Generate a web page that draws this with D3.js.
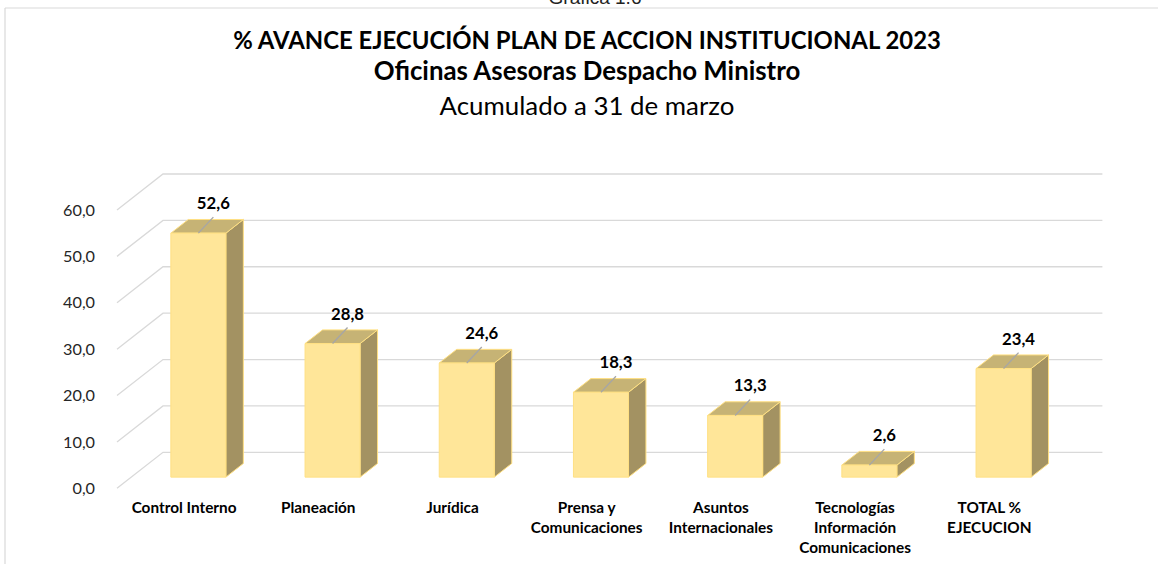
<!DOCTYPE html>
<html><head><meta charset="utf-8">
<script src="https://cdn.jsdelivr.net/npm/d3@7"></script>
<style>html,body{margin:0;padding:0;background:#fff;overflow:hidden}</style>
</head><body>
<svg id="c" width="1158" height="564"></svg>
<script>
const categories = ["Control Interno","Planeación","Jurídica","Prensa y Comunicaciones","Asuntos Internacionales","Tecnologías Información Comunicaciones","TOTAL % EJECUCION"];
const categoryLines = [["Control Interno"],["Planeación"],["Jurídica"],["Prensa y","Comunicaciones"],["Asuntos","Internacionales"],["Tecnologías","Información","Comunicaciones"],["TOTAL %","EJECUCION"]];
const values = [52.6, 28.8, 24.6, 18.3, 13.3, 2.6, 23.4];
const yTicks = [0, 10, 20, 30, 40, 50, 60];
const titleLines = ["% AVANCE EJECUCIÓN PLAN DE ACCION INSTITUCIONAL 2023","Oficinas Asesoras Despacho Ministro","Acumulado a 31 de marzo"];
const caption = "Gráfica 1.6";

const svg = d3.select("#c");
const FONT = "Lato, 'Open Sans', sans-serif";
const loc = d3.formatLocale({decimal: ",", thousands: ".", grouping: [3], currency: ["", ""]});
const fmt = loc.format(".1f");

// geometry
const x0 = 117, x1 = 117 + 7 * 134.2;
const yFront0 = 488.3, yFront60 = 210;
const depth = {dx: 46, dy: -36};
const d1 = 0.31, d2 = 0.69;

const x = d3.scaleBand().domain(categories).range([x0, x1]).paddingInner(0.59).paddingOuter(0.295);
const xc = d3.scaleBand().domain(categories).range([x0, x1]);
const y = d3.scaleLinear().domain([0, 60]).range([yFront0, yFront60]);

// fit helper: sets font size of a selection so that a reference string has the target width
function fitSize(text, weight, target) {
  const t = svg.append("text").attr("font-family", FONT).attr("font-weight", weight).attr("font-size", 100).text(text);
  const w = t.node().getComputedTextLength();
  t.remove();
  return 100 * target / w;
}

// frame
svg.append("line").attr("x1", 5).attr("y1", 8).attr("x2", 1158).attr("y2", 8).attr("stroke", "#d9d9d9").attr("stroke-width", 1.2);
svg.append("line").attr("x1", 5).attr("y1", 8).attr("x2", 5).attr("y2", 564).attr("stroke", "#d9d9d9").attr("stroke-width", 1.2);

svg.append("text").attr("x", 595).attr("y", 4).attr("text-anchor", "middle")
  .attr("font-family", "'Liberation Sans', Arial, sans-serif").attr("font-size", 19).attr("fill", "#222").text(caption);

// titles
const tSizes = [fitSize(titleLines[0], "bold", 708), fitSize(titleLines[1], "bold", 427), fitSize(titleLines[2], "normal", 295)];
const tY = [48.5, 79.5, 115];
titleLines.forEach((s, i) => {
  svg.append("text").attr("x", 587).attr("y", tY[i]).attr("text-anchor", "middle")
    .attr("font-family", FONT).attr("font-weight", i < 2 ? "bold" : "normal")
    .attr("font-size", tSizes[i]).attr("fill", "#000").text(s);
});

// gridlines (floor diagonal + back wall)
const grid = svg.append("g").attr("stroke", "#d9d9d9").attr("stroke-width", 1.3).attr("fill", "none");
yTicks.forEach(t => {
  grid.append("path").attr("d",
    `M${x0},${y(t)}L${x0 + depth.dx},${y(t) + depth.dy}L${x1 + depth.dx},${y(t) + depth.dy}`);
});

// y labels
const ySize = fitSize("60,0", "normal", 32);
svg.append("g").selectAll("text").data(yTicks).join("text")
  .attr("x", 95).attr("y", d => y(d)).attr("dy", "0.35em").attr("text-anchor", "end")
  .attr("font-family", FONT).attr("font-size", ySize).attr("fill", "#262626").text(d => fmt(d));

// bars
const bw = x.bandwidth();
const bdx = (d2 - d1) * depth.dx, bdy = (d2 - d1) * depth.dy;
const bars = svg.append("g");
categories.forEach((c, i) => {
  const v = values[i];
  const fx = x(c) + d1 * depth.dx;
  const yb = y(0) + d1 * depth.dy;
  const yt = y(v) + d1 * depth.dy;
  const g = bars.append("g").attr("stroke", "#ffe083").attr("stroke-width", 1).attr("stroke-linejoin", "round");
  g.append("path").attr("fill", "#a39262")
    .attr("d", `M${fx + bw},${yb}L${fx + bw + bdx},${yb + bdy}L${fx + bw + bdx},${yt + bdy}L${fx + bw},${yt}Z`);
  g.append("path").attr("fill", "#c6b375")
    .attr("d", `M${fx},${yt}L${fx + bdx},${yt + bdy}L${fx + bw + bdx},${yt + bdy}L${fx + bw},${yt}Z`);
  g.append("rect").attr("fill", "#ffe699").attr("x", fx).attr("y", yt).attr("width", bw).attr("height", yb - yt);
});

// value labels with leader lines
const vSize = fitSize("52,6", "bold", 33);
categories.forEach((c, i) => {
  const v = values[i];
  const cx = x(c) + d1 * depth.dx + bw / 2;
  const yt = y(v) + d1 * depth.dy;
  svg.append("line").attr("x1", cx).attr("y1", yt).attr("x2", cx + 15).attr("y2", yt - 16)
    .attr("stroke", "#a6a6a6").attr("stroke-width", 1.3);
  svg.append("text").attr("x", cx + 15).attr("y", yt - 24).attr("text-anchor", "middle")
    .attr("font-family", FONT).attr("font-weight", "bold").attr("font-size", vSize).attr("fill", "#000")
    .text(fmt(v));
});

// category labels
const cSize = fitSize("Control Interno", "bold", 105);
categories.forEach((c, i) => {
  const t = svg.append("text").attr("text-anchor", "middle")
    .attr("font-family", FONT).attr("font-weight", "bold").attr("font-size", cSize).attr("fill", "#000");
  categoryLines[i].forEach((ln, k) => {
    t.append("tspan").attr("x", xc(c) + xc.bandwidth() / 2).attr("y", 513 + k * 20).text(ln);
  });
});
</script>
</body></html>
